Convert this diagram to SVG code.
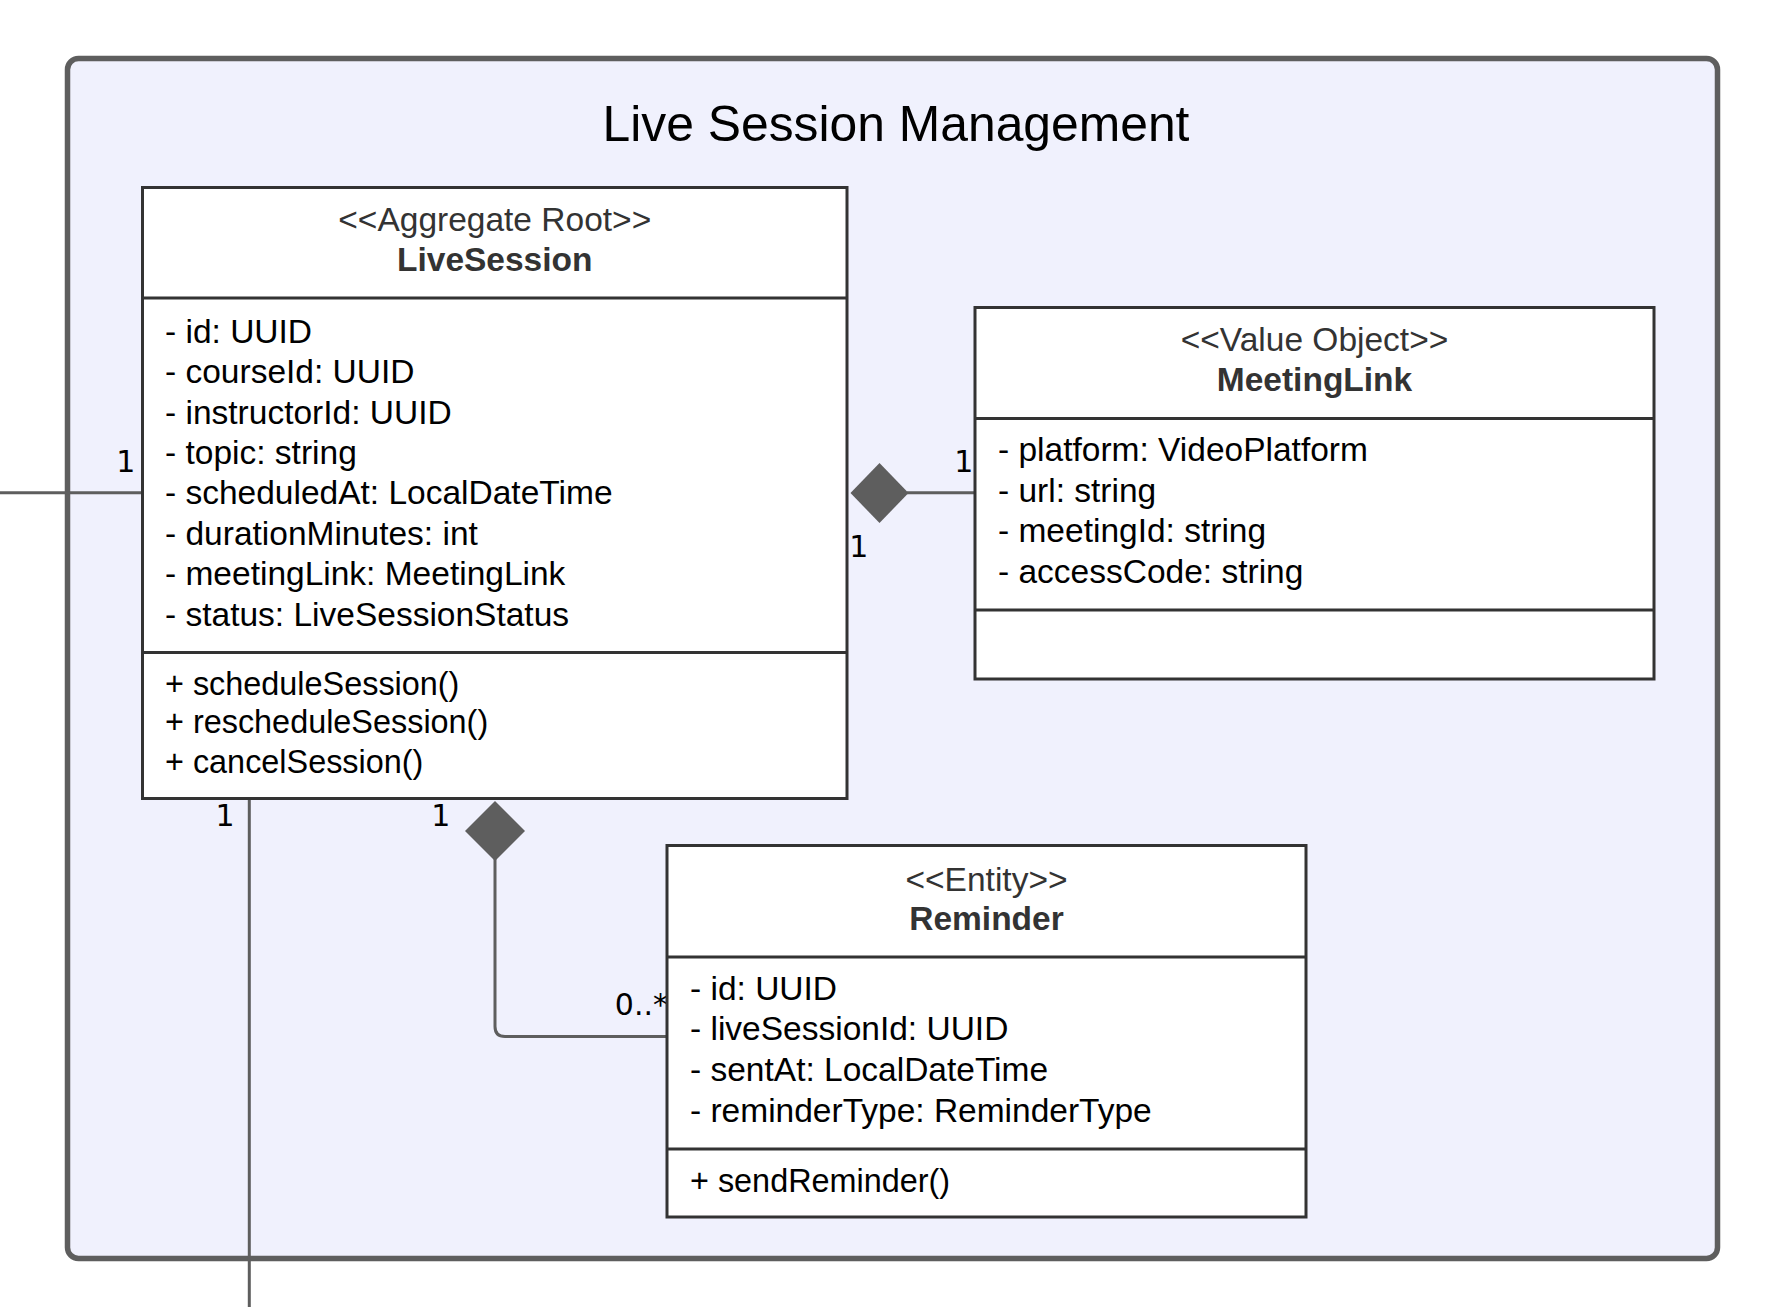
<svg xmlns="http://www.w3.org/2000/svg" width="1776" height="1307" viewBox="0 0 1776 1307">
<style>
.box{fill:#ffffff;stroke:#333333;stroke-width:3}
.div{stroke:#333333;stroke-width:3}
.st{font-family:"Liberation Sans",Arial,sans-serif;font-size:33.5px;fill:#333333;text-anchor:middle}
.nm{font-family:"Liberation Sans",Arial,sans-serif;font-size:33.5px;font-weight:bold;fill:#333333;text-anchor:middle}
.at{font-family:"Liberation Sans",Arial,sans-serif;font-size:33.5px;fill:#000000}
.op{font-family:"Liberation Sans",Arial,sans-serif;font-size:32.4px;fill:#000000}
.lb{font-family:"DejaVu Sans","Liberation Sans",sans-serif;font-size:30px;fill:#000000;text-anchor:middle}
.ln{fill:none;stroke:#5e5e5e;stroke-width:3}
.dm{fill:#5e5e5e;stroke:none}
</style>
<rect width="1776" height="1307" fill="#ffffff"/>
<g id="container">
<rect x="67.5" y="58.5" width="1650" height="1200" rx="11" ry="11" fill="#f0f1fd" stroke="#5e5e5e" stroke-width="5.5"/>
<text x="896" y="141" font-family="'Liberation Sans',Arial,sans-serif" font-size="49.8" fill="#000000" text-anchor="middle">Live Session Management</text>
</g>
<g id="connectors">
<line class="ln" x1="0" y1="492.7" x2="142.5" y2="492.7"/>
<line class="ln" x1="249.3" y1="799" x2="249.3" y2="1307"/>
<line class="ln" x1="907" y1="492.7" x2="975" y2="492.7"/>
<polygon class="dm" points="850.5,493 879.5,463 908.5,493 879.5,523"/>
<path class="ln" d="M495,859 V1026.5 Q495,1036.5 505,1036.5 H667"/>
<polygon class="dm" points="495,801 525,831 495,861 465,831"/>
<text class="lb" x="125.8" y="472">1</text>
<text class="lb" x="963.8" y="472">1</text>
<text class="lb" x="858.8" y="557">1</text>
<text class="lb" x="225" y="826">1</text>
<text class="lb" x="440.8" y="826">1</text>
<text class="lb" x="668" y="1015" style="text-anchor:end">0..*</text>
</g>
<g id="LiveSession">
<rect class="box" x="142.5" y="187.5" width="704.5" height="611"/>
<line class="div" x1="142.5" y1="298" x2="847" y2="298"/>
<line class="div" x1="142.5" y1="652.5" x2="847" y2="652.5"/>
<text class="st" x="494.75" y="231">&lt;&lt;Aggregate Root&gt;&gt;</text>
<text class="nm" x="494.75" y="271">LiveSession</text>
<text class="at" x="165" y="342.8">- id: UUID</text>
<text class="at" x="165" y="383.2">- courseId: UUID</text>
<text class="at" x="165" y="423.6">- instructorId: UUID</text>
<text class="at" x="165" y="464">- topic: string</text>
<text class="at" x="165" y="504.4">- scheduledAt: LocalDateTime</text>
<text class="at" x="165" y="544.8">- durationMinutes: int</text>
<text class="at" x="165" y="585.2">- meetingLink: MeetingLink</text>
<text class="at" x="165" y="625.6">- status: LiveSessionStatus</text>
<text class="op" x="165" y="694.5">+ scheduleSession()</text>
<text class="op" x="165" y="733.3">+ rescheduleSession()</text>
<text class="op" x="165" y="772.5">+ cancelSession()</text>
</g>
<g id="MeetingLink">
<rect class="box" x="975" y="307.5" width="679" height="371.5"/>
<line class="div" x1="975" y1="418.5" x2="1654" y2="418.5"/>
<line class="div" x1="975" y1="610" x2="1654" y2="610"/>
<text class="st" x="1314.5" y="351">&lt;&lt;Value Object&gt;&gt;</text>
<text class="nm" x="1314.5" y="391">MeetingLink</text>
<text class="at" x="998" y="461.4">- platform: VideoPlatform</text>
<text class="at" x="998" y="501.8">- url: string</text>
<text class="at" x="998" y="542.2">- meetingId: string</text>
<text class="at" x="998" y="582.6">- accessCode: string</text>
</g>
<g id="Reminder">
<rect class="box" x="667" y="845.5" width="639" height="371.5"/>
<line class="div" x1="667" y1="957" x2="1306" y2="957"/>
<line class="div" x1="667" y1="1149" x2="1306" y2="1149"/>
<text class="st" x="986.5" y="890.5">&lt;&lt;Entity&gt;&gt;</text>
<text class="nm" x="986.5" y="930.3">Reminder</text>
<text class="at" x="690" y="999.6">- id: UUID</text>
<text class="at" x="690" y="1040">- liveSessionId: UUID</text>
<text class="at" x="690" y="1081.4">- sentAt: LocalDateTime</text>
<text class="at" x="690" y="1121.8">- reminderType: ReminderType</text>
<text class="op" x="690" y="1191.7">+ sendReminder()</text>
</g>
</svg>
